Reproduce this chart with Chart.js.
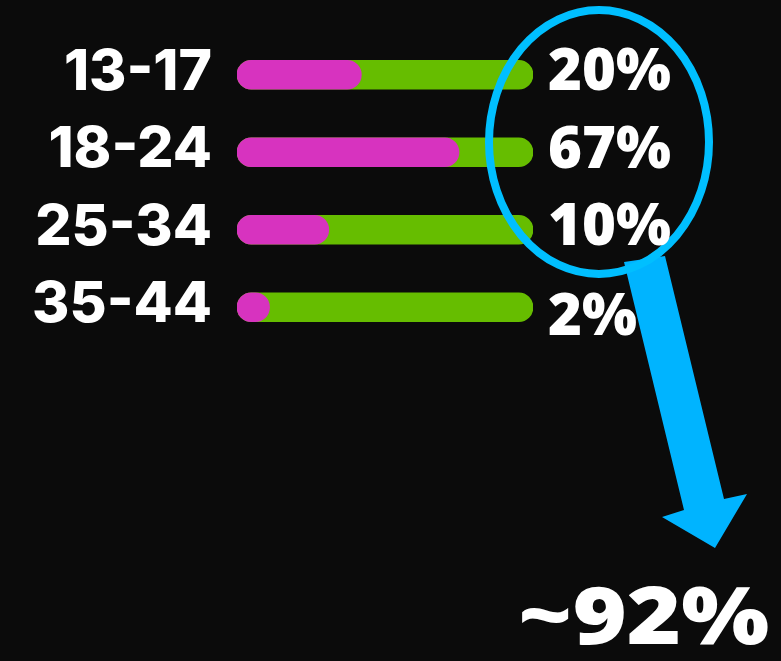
<!DOCTYPE html>
<html>
<head>
<meta charset="utf-8">
<script src="https://cdn.jsdelivr.net/npm/chart.js@4.4.0/dist/chart.umd.min.js"></script>
<style>
  html, body { margin: 0; padding: 0; background: #0b0b0b; }
  #wrap { width: 781px; height: 661px; }
</style>
</head>
<body>
<div id="wrap"><canvas id="myChart" width="781" height="661"></canvas></div>
<script>
// age groups and what is shown for them
var ages = ["13-17", "18-24", "25-34", "35-44"];
var shares = ["20%", "67%", "10%", "2%"];
// length of the pink fill (track = 100)
var fillLen = [42, 75, 31, 11];
var trackLen = [100, 100, 100, 100];
var total = "~92%";

var pink = "#d733bf";
var green = "#66bd00";
var blue = "#00b4ff";

// labels, magnifier, arrow and the big number
var extras = {
    id: "extras",
    afterDraw: function (chart) {
        var ctx = chart.ctx;
        var y = chart.scales.y;
        ctx.save();

        // arrow (magnifier handle)
        ctx.fillStyle = blue;
        ctx.beginPath();
        ctx.moveTo(624, 262);
        ctx.lineTo(665, 256);
        ctx.lineTo(724, 499);
        ctx.lineTo(747, 494);
        ctx.lineTo(715, 548);
        ctx.lineTo(662, 517);
        ctx.lineTo(684, 510);
        ctx.closePath();
        ctx.fill();

        // ring
        ctx.strokeStyle = "#00bfff";
        ctx.lineWidth = 8;
        ctx.beginPath();
        ctx.ellipse(599, 142, 110, 132, 0, 0, Math.PI * 2);
        ctx.stroke();

        // age labels
        ctx.fillStyle = "#ffffff";
        ctx.textBaseline = "middle";
        ctx.textAlign = "right";
        ctx.font = "800 57px Inter";
        ages.forEach(function (a, i) {
            ctx.fillText(a, 212, y.getPixelForValue(i) - 2);
        });

        // share labels
        ctx.textAlign = "left";
        ctx.font = "800 58px 'Open Sans'";
        shares.forEach(function (s, i) {
            var off = i == 3 ? 12 : 0;
            ctx.fillText(s, 548, y.getPixelForValue(i) - 1 + off);
        });

        // big total
        ctx.textBaseline = "alphabetic";
        ctx.font = "800 80px 'Open Sans'";
        ctx.translate(518, 644);
        ctx.scale(1.16, 1);
        ctx.fillText(total, 0, 0);
        ctx.restore();
    }
};

var data = {
    labels: ages,
    datasets: [{
        label: "share",
        data: fillLen,
        backgroundColor: pink,
        borderRadius: 15,
        borderSkipped: false,
        barThickness: 29,
        grouped: false
    }, {
        label: "track",
        data: trackLen,
        backgroundColor: green,
        borderRadius: 15,
        borderSkipped: false,
        barThickness: 29,
        grouped: false
    }]
};

var config = {
    type: "bar",
    data: data,
    options: {
        indexAxis: "y",
        responsive: false,
        animation: false,
        layout: { padding: { left: 237, right: 248, top: 36, bottom: 315 } },
        plugins: { legend: { display: false }, tooltip: { enabled: false } },
        scales: {
            x: { display: false, min: 0, max: 100 },
            y: { display: false }
        }
    },
    plugins: [extras]
};

var myChart = new Chart(document.getElementById("myChart"), config);
</script>
</body>
</html>
